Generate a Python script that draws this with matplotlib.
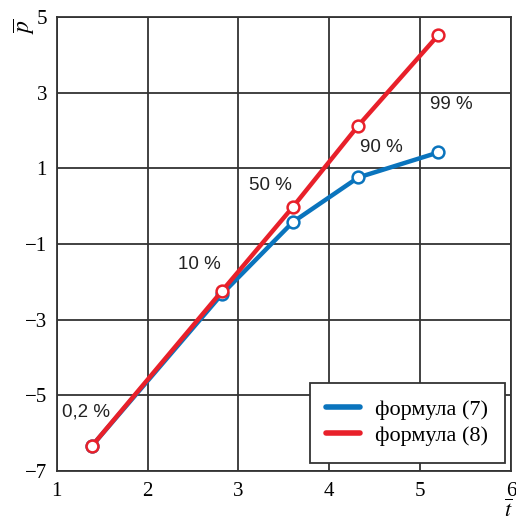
import matplotlib.pyplot as plt

plt.rcParams['mathtext.fontset'] = 'stix'

# Данные: значения t и p для двух формул
t_vals = [1.39, 2.82, 3.60, 4.32, 5.20]
p_f7 = [-6.33, -2.32, -0.42, 0.76, 1.42]
p_f8 = [-6.33, -2.24, -0.02, 2.13, 4.52]
pct_labels = ['0,2 %', '10 %', '50 %', '90 %', '99 %']
label_pos = [(1.32, -5.45), (2.57, -1.55), (3.35, 0.55), (4.57, 1.55), (5.35, 2.7)]

blue = '#0a74bd'
red = '#e8202a'
grid_col = '#333333'

fig = plt.figure(figsize=(5.16, 5.23), dpi=100)
ax = fig.add_axes([0.110, 0.0994, 0.880, 0.868])

ax.plot(t_vals, p_f7, color=blue, lw=3.2, marker='o', ms=8.5, mfc='white',
        mec=blue, mew=1.8, label='формула (7)', zorder=3)
ax.plot(t_vals, p_f8, color=red, lw=3.2, marker='o', ms=8.5, mfc='white',
        mec=red, mew=1.8, label='формула (8)', zorder=4)

for txt, (x, y) in zip(pct_labels, label_pos):
    ax.text(x, y, txt, fontsize=13.5, family='Liberation Sans', color='#222222',
            ha='center', va='center')

ax.set_xlim(1, 6)
ax.set_ylim(-7, 5)
ax.set_xticks([1, 2, 3, 4, 5, 6])
ax.set_yticks([-7, -5, -3, -1, 1, 3, 5])
ax.set_yticklabels(['\u22127', '\u22125', '\u22123', '\u22121', '1', '3', '5'])
ax.grid(True, color=grid_col, lw=1.3)
ax.set_axisbelow(True)
for s in ax.spines.values():
    s.set_color(grid_col)
    s.set_linewidth(1.3)
ax.tick_params(length=0, labelsize=15, pad=7)
ax.tick_params(axis='x', pad=8)
for lab in ax.get_xticklabels() + ax.get_yticklabels():
    lab.set_family('Liberation Serif')

# обозначения осей
ax.text(-0.072, 0.98, r'$\overline{p}$', transform=ax.transAxes, rotation=90,
        fontsize=17, ha='center', va='center')
ax.text(0.995, -0.101, r'$\overline{t}$', transform=ax.transAxes,
        fontsize=16, ha='center', va='baseline')

leg = ax.legend(loc='lower right', bbox_to_anchor=(0.987, 0.018),
                borderaxespad=0,
                prop={'family': 'Liberation Serif', 'size': 16},
                fancybox=False, framealpha=1, edgecolor=grid_col,
                handlelength=1.5, handletextpad=0.7, borderpad=0.75,
                labelspacing=0.25)
leg.get_frame().set_linewidth(1.3)
for h in leg.get_lines():
    h.set_marker('')
    h.set_linewidth(4)
    h.set_solid_capstyle('round')

fig.savefig('out.png', dpi=100)
